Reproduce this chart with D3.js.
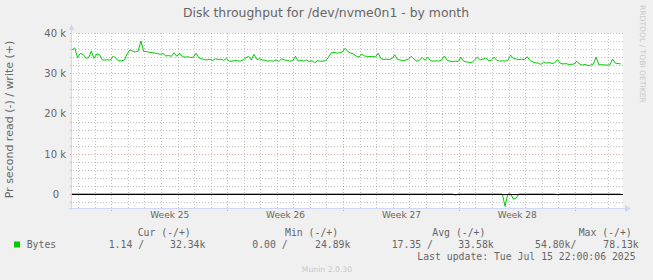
<!DOCTYPE html>
<html><head><meta charset="utf-8">
<script src="https://cdn.jsdelivr.net/npm/d3@7/dist/d3.min.js"></script>
<style>html,body{margin:0;padding:0;background:#f0f0f0}svg{display:block}</style>
</head><body>
<svg id="chart" width="653" height="280"></svg>
<script>
// ---- data (kB/s, 4-hour samples) ----
const rangeStart = "2025-06-12 15:00";
const rangeEnd = "2025-07-15 22:00";
const stepHours = 4;
const writeValues = [
 35.8, 36.3, 33.9, 34.9, 34.7, 33.8, 33.8, 35.5, 33.7, 34.8,
 34.6, 33.3, 33.3, 33.3, 33.3, 34.3, 33.6, 33.1, 33.1, 33.3,
 34.8, 35.8, 35.5, 35.3, 35.5, 38.0, 35.4, 35.4, 35.2, 35.1,
 35.0, 34.9, 34.7, 34.9, 34.3, 34.4, 34.2, 35.1, 34.2, 35.0,
 34.1, 34.0, 34.1, 33.9, 34.0, 35.0, 33.8, 33.6, 33.4, 33.3,
 33.5, 33.2, 33.6, 33.4, 33.5, 33.2, 33.7, 33.0, 33.0, 33.2,
 33.1, 33.0, 33.3, 33.8, 34.2, 33.3, 34.7, 33.4, 33.6, 33.3,
 33.2, 33.0, 33.1, 33.0, 33.3, 32.9, 33.6, 33.3, 33.2, 33.0,
 33.1, 34.2, 33.0, 33.2, 33.0, 33.3, 32.9, 33.1, 32.6, 33.1,
 33.0, 33.0, 33.1, 34.0, 35.1, 35.2, 35.0, 35.1, 35.3, 36.2,
 35.4, 35.0, 34.8, 34.3, 34.0, 34.8, 34.3, 34.2, 34.1, 34.2,
 34.0, 35.0, 33.6, 33.4, 33.5, 33.4, 33.6, 34.6, 33.4, 33.3,
 33.1, 33.3, 33.5, 34.2, 33.5, 33.0, 33.3, 33.9, 33.2, 34.0,
 33.1, 33.0, 33.1, 33.0, 33.3, 34.3, 33.2, 33.0, 32.9, 33.0,
 32.9, 34.0, 33.0, 32.8, 32.7, 32.6, 33.4, 34.0, 33.3, 33.5,
 33.8, 33.1, 33.2, 34.0, 33.2, 33.0, 33.1, 33.0, 33.2, 34.5,
 33.7, 33.5, 33.4, 33.5, 33.4, 34.1, 33.2, 32.8, 32.6, 32.5,
 32.2, 32.8, 32.5, 32.7, 32.4, 32.6, 33.4, 32.5, 32.3, 32.4,
 32.2, 32.2, 32.3, 33.0, 32.3, 32.0, 32.2, 31.9, 32.0, 32.3,
 34.0, 32.1, 32.1, 32.1, 32.0, 32.1, 33.5, 32.5, 32.4, 32.3
];
const readValues = [
 0,0,0,0,0,0,0,0,0,0, 0,0,0,0,0,0,0,0,0,0,
 0,0,0,0,0,0,0,0,0,0, 0,0,0,0,0,0,0,0,0,0,
 0,0,0,0,0,0,0,0,0,0, 0,0,0,0,0,0,0,0,0,0,
 0,0,0,0,0,0,0,0,0,0, 0,0,0,0,0,0,0,0,0,0,
 0,0,0,0,0,0,0,0,0,0, 0,0,0,0,0,0,0,0,0,0,
 0,0,0,0,0,0,0,0,0,0, 0,0,0,0,0,0,0,0,0,0,
 0,0,0,0,0,0,0,0,0,0, 0,0,0,0,0,0,0,0,0,0.3,
 0,0,0,0,0,0,0,0,0,0, 0,0,0,0,0,0,0,3.1,0,0,
 1.3,1.1,0,0,0,0,0,0,0,0, 0,0,0,0,0,0,0.2,0,0,0,
 0,0,0,0,0,0,0,0,0,0, 0,0,0,0,0,0,0,0,0,0
];
const yTicks = [0, 10, 20, 30, 40];
const yTickLabels = ["0", "10 k", "20 k", "30 k", "40 k"];
const weekLabels = ["Week 25", "Week 26", "Week 27", "Week 28"];
const legendHeaders = ["Cur (-/+)", "Min (-/+)", "Avg (-/+)", "Max (-/+)"];
const legendName = "Bytes";
const legendValues = ["1.14 /", "32.34k", "0.00 /", "24.89k", "17.35 /", "33.58k", "54.80k/", "78.13k"];
const titleText = "Disk throughput for /dev/nvme0n1 - by month";
const yLabelText = "Pr second read (-) / write (+)";
const lastUpdate = "Last update: Tue Jul 15 22:00:06 2025";

// ---- drawing ----
const svg = d3.select("#chart");
const parse = d3.timeParse("%Y-%m-%d %H:%M");
const t0 = parse(rangeStart), t1 = parse(rangeEnd);
const times = writeValues.map((_, i) => d3.timeHour.offset(t0, i * stepHours));
const L = 72, R = 623, T = 33, B = 208;
const x = d3.scaleTime().domain([t0, t1]).range([L, R]);
const y = d3.scaleLinear().domain([-3.5, 40]).range([B, T]);
const FONT = "#666666", SANS = "'DejaVu Sans', sans-serif", MONO = "'DejaVu Sans Mono', monospace";
const GREEN = "#00CC00", AXIS = "#CFD6F8";

svg.append("rect").attr("width", 653).attr("height", 280).attr("fill", "#F0F0F0");
svg.append("rect").attr("x", L).attr("y", T).attr("width", R - L).attr("height", B - T).attr("fill", "#FFFFFF");

// grid
const g = svg.append("g").attr("shape-rendering", "crispEdges");
const minorY = d3.range(-2, 40, 2).filter(v => v % 10 !== 0);
const majorY = yTicks;
const sundays = d3.timeSunday.range(t0, t1);
const minorX = d3.timeDay.range(t0, t1).filter(d => d.getDay() !== 0);
const minorCol = "rgba(143,143,143,0.55)", majorCol = "rgba(222,79,79,0.5)";
minorY.forEach(v => g.append("line").attr("x1", L - 2).attr("x2", R + 2)
  .attr("y1", Math.round(y(v)) + 0.5).attr("y2", Math.round(y(v)) + 0.5)
  .attr("stroke", minorCol).attr("stroke-dasharray", "1,2"));
minorX.forEach(d => g.append("line").attr("y1", T).attr("y2", B + 2)
  .attr("x1", Math.round(x(d)) + 0.5).attr("x2", Math.round(x(d)) + 0.5)
  .attr("stroke", minorCol).attr("stroke-dasharray", "1,2"));
majorY.forEach(v => g.append("line").attr("x1", L - 2).attr("x2", R + 2)
  .attr("y1", Math.round(y(v)) + 0.5).attr("y2", Math.round(y(v)) + 0.5)
  .attr("stroke", majorCol).attr("stroke-dasharray", "1,2"));
sundays.forEach(d => g.append("line").attr("y1", T).attr("y2", B + 3)
  .attr("x1", Math.round(x(d)) + 0.5).attr("x2", Math.round(x(d)) + 0.5)
  .attr("stroke", majorCol).attr("stroke-dasharray", "1,2"));

// data
const line = d3.line().x((d, i) => x(times[i])).y(d => y(d));
svg.append("path").datum(readValues.map(v => -v)).attr("d", line)
  .attr("fill", "none").attr("stroke", GREEN).attr("stroke-width", 1);
svg.append("path").datum(writeValues).attr("d", line)
  .attr("fill", "none").attr("stroke", GREEN).attr("stroke-width", 1);
svg.append("line").attr("x1", L).attr("x2", R)
  .attr("y1", Math.round(y(0)) + 0.5).attr("y2", Math.round(y(0)) + 0.5)
  .attr("stroke", "#000").attr("stroke-width", 1).attr("shape-rendering", "crispEdges");

// axes lines + arrows
svg.append("line").attr("x1", L - 0.5).attr("x2", L - 0.5).attr("y1", B + 2).attr("y2", T - 4)
  .attr("stroke", AXIS).attr("shape-rendering", "crispEdges");
svg.append("line").attr("x1", L - 3).attr("x2", R + 3).attr("y1", B + 0.5).attr("y2", B + 0.5)
  .attr("stroke", AXIS).attr("shape-rendering", "crispEdges");
svg.append("path").attr("d", `M${L - 3.5},${T - 3}L${L + 2.5},${T - 3}L${L - 0.5},${T - 9}Z`).attr("fill", AXIS);
svg.append("path").attr("d", `M${R + 2},${B - 3}L${R + 2},${B + 4}L${R + 8},${B + 0.5}Z`).attr("fill", AXIS);

// y axis labels
const yAxis = d3.axisLeft(y).tickValues(yTicks).tickSize(0).tickPadding(0)
  .tickFormat((d, i) => yTickLabels[i]);
const ya = svg.append("g").attr("transform", `translate(${L - 6},0)`).call(yAxis);
ya.select(".domain").remove();
ya.selectAll("text").attr("font-family", SANS).attr("font-size", 10).attr("fill", FONT)
  .attr("dy", "0.35em").attr("dx", (d) => d === 0 ? -7 : 0);

// x axis week labels
const weekMids = sundays.map(s => new Date((+s + +d3.timeDay.offset(s, 7)) / 2)).filter(d => d < t1).slice(0, weekLabels.length);
const xAxis = d3.axisBottom(x).tickValues(weekMids).tickSize(0).tickPadding(0)
  .tickFormat((d, i) => weekLabels[i]);
const xa = svg.append("g").attr("transform", `translate(0,${B + 4})`).call(xAxis);
xa.select(".domain").remove();
xa.selectAll("text").attr("font-family", SANS).attr("font-size", 9).attr("fill", FONT).attr("dy", "0.71em");

// title & labels
svg.append("text").attr("x", 326).attr("y", 17).attr("text-anchor", "middle")
  .attr("font-family", SANS).attr("font-size", 12.4).attr("fill", FONT).text(titleText);
svg.append("text").attr("transform", "translate(13,119.5) rotate(-90)").attr("text-anchor", "middle")
  .attr("font-family", SANS).attr("font-size", 11).attr("fill", FONT).text(yLabelText);
svg.append("text").attr("transform", "translate(640,5) rotate(90)").attr("text-anchor", "start")
  .attr("font-family", SANS).attr("font-size", 7.6).attr("fill", "#C8C8C8").text("RRDTOOL / TOBI OETIKER");
svg.append("text").attr("x", 327).attr("y", 272).attr("text-anchor", "middle")
  .attr("font-family", SANS).attr("font-size", 7.7).attr("fill", "#C8C8C8").text("Munin 2.0.30");

// legend
const lg = svg.append("g").attr("font-family", MONO).attr("font-size", 9.8).attr("fill", FONT)
  .style("white-space", "pre");
const headerX = [137.7, 285, 432.3, 578.7];
legendHeaders.forEach((h, i) => lg.append("text").attr("x", headerX[i]).attr("y", 235.5).text(h));
svg.append("rect").attr("x", 14).attr("y", 241.5).attr("width", 6).attr("height", 6).attr("fill", GREEN);
lg.append("text").attr("x", 26.7).attr("y", 247.5).text(legendName);
const valueX = [108.7, 170, 252.3, 315, 391.7, 458.3, 535, 603.3];
legendValues.forEach((v, i) => lg.append("text").attr("x", valueX[i]).attr("y", 247.5).text(v));
lg.append("text").attr("x", 417.3).attr("y", 259.5).text(lastUpdate);
</script>
</body></html>
